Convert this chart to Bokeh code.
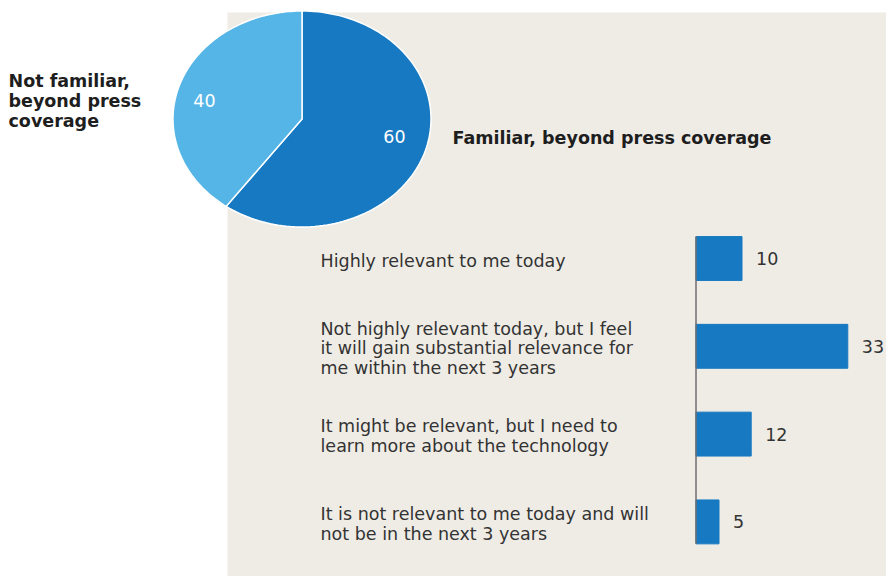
import numpy as np
from bokeh.plotting import figure
from bokeh.models import Range1d, ColumnDataSource
from bokeh.embed import file_html
from bokeh.resources import INLINE
from bokeh.core.properties import value

# ---------------- data ----------------
pie_labels = ["Familiar, beyond press coverage", "Not familiar,\nbeyond press\ncoverage"]
pie_values = [60, 40]
pie_colors = ["#1679C1", "#55B5E6"]

bar_categories = [
    "Highly relevant to me today",
    "Not highly relevant today, but I feel\nit will gain substantial relevance for\nme within the next 3 years",
    "It might be relevant, but I need to\nlearn more about the technology",
    "It is not relevant to me today and will\nnot be in the next 3 years",
]
bar_values = [10, 33, 12, 5]
bar_color = "#1679C1"

# ---------------- layout constants ----------------
W, H = 886, 576
FONT = value("DejaVu Sans")
FS = "17.5px"
PX_PER_UNIT = 4.6      # bar scale
X0 = 695.5             # bar baseline pixel
ROW = 87.8             # pixels per category row
Y0 = 258               # first row centre pixel

p = figure(width=W, height=H, x_range=Range1d(0, W), y_range=Range1d(H, 0),
           output_backend="svg", toolbar_location=None,
           x_axis_type=None, y_axis_type=None, min_border=0,
           outline_line_color=None)
p.background_fill_color = "white"
p.border_fill_color = "white"
p.grid.visible = False

p.extra_x_ranges = {"val": Range1d(-X0 / PX_PER_UNIT, (W - X0) / PX_PER_UNIT)}
p.extra_y_ranges = {"cat": Range1d((H - Y0) / ROW, -Y0 / ROW)}

# beige panel
p.quad(left=227, right=W, top=12, bottom=H, fill_color="#EFECE6", line_color=None)

# ---------------- pie (elliptical, built from values) ----------------
cx, cy, rx, ry = 301.5, 118.5, 129, 108
total = float(sum(pie_values))
xs, ys = [], []
start = np.pi / 2
for v in pie_values:
    sweep = 2 * np.pi * v / total
    th = np.linspace(start, start - sweep, 120)
    xs.append([cx] + list(cx + rx * np.cos(th)) + [cx])
    ys.append([cy] + list(cy - ry * np.sin(th)) + [cy])
    start -= sweep
p.patches(xs=xs, ys=ys, fill_color=pie_colors, line_color="white", line_width=1.5)

# pie value labels
p.text(x=[394, 204], y=[136, 100], text=[str(v) for v in pie_values],
       text_align="center", text_baseline="middle", text_color="white",
       text_font=FONT, text_font_size=FS)

# pie category labels
p.text(x=[452, 8], y=[137, 100], text=pie_labels,
       text_align="left", text_baseline="middle", text_color="#1E1E1E",
       text_font=FONT, text_font_size=FS, text_font_style="bold",
       text_line_height=1.0)

# ---------------- bars ----------------
idx = list(range(len(bar_categories)))
src = ColumnDataSource(dict(y=idx, v=bar_values, cat=bar_categories,
                            lbl=[str(v) for v in bar_values]))

p.hbar(y="y", left=0, right="v", height=0.5, source=src,
       x_range_name="val", y_range_name="cat",
       fill_color=bar_color, line_color=bar_color)

p.segment(x0=[0], x1=[0], y0=[-0.25], y1=[len(idx) - 1 + 0.25],
          x_range_name="val", y_range_name="cat",
          line_color="#6E6E6E", line_width=1.5)

p.text(x="v", y="y", text="lbl", source=src, x_offset=14,
       x_range_name="val", y_range_name="cat",
       text_align="left", text_baseline="middle", text_color="#333333",
       text_font=FONT, text_font_size=FS)

p.text(x=320, y="y", text="cat", source=src, y_range_name="cat", y_offset=2,
       text_align="left", text_baseline="middle", text_color="#333333",
       text_font=FONT, text_font_size=FS, text_line_height=0.98)

open("out.html", "w").write(file_html(p, INLINE))
